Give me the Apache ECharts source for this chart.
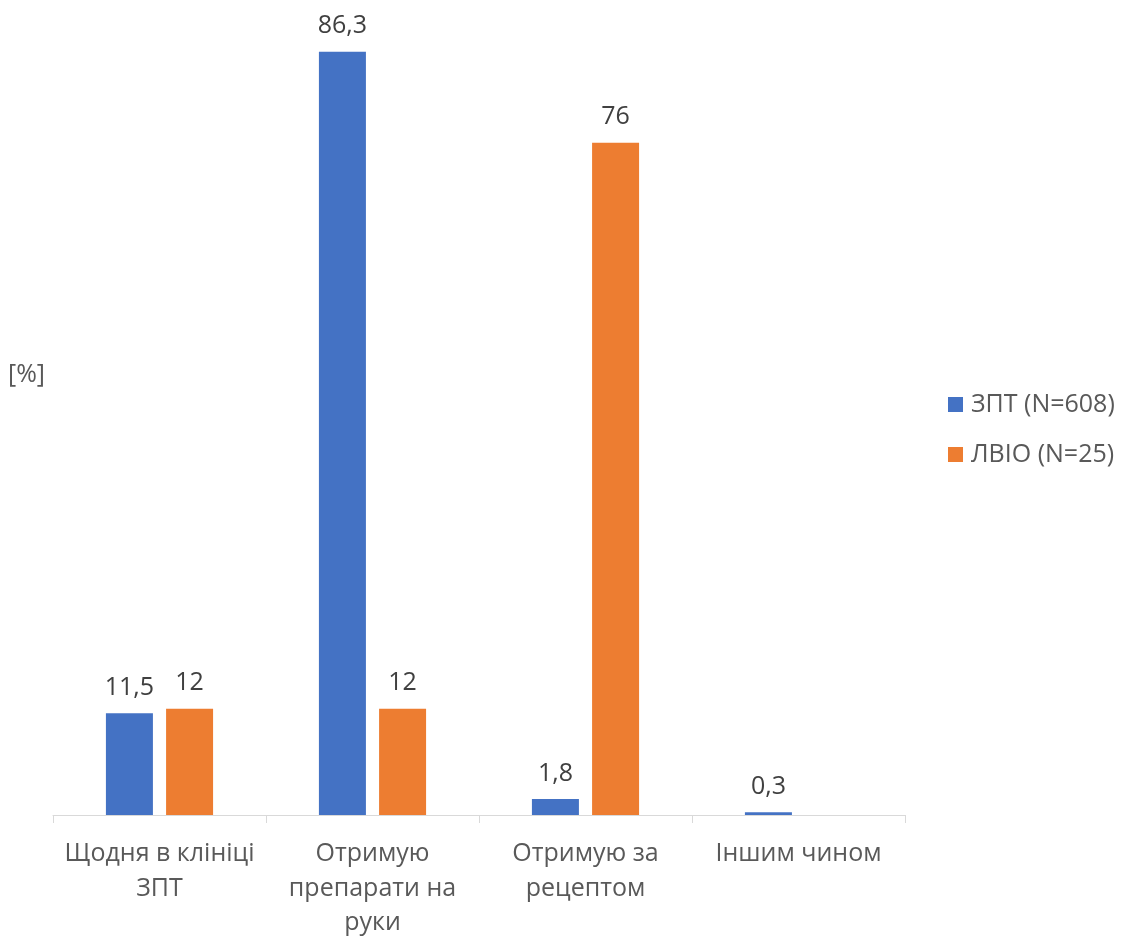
<!DOCTYPE html>
<html><head><meta charset="utf-8">
<script src="https://cdn.jsdelivr.net/npm/echarts@6/dist/echarts.min.js"></script>
<style>html,body{margin:0;padding:0;background:#fff}#c{width:1124px;height:937px}</style>
</head><body><div id="c"></div>
<script>
const categories = ["Щодня в клініці\nЗПТ", "Отримую\nпрепарати на\nруки", "Отримую за\nрецептом", "Іншим чином"];
const seriesNames = ["ЗПТ (N=608)", "ЛВІО (N=25)"];
const zptValues = [11.5, 86.3, 1.8, 0.3];
const lvioValues = [12, 12, 76, 0];
const yAxisLabel = "[%]";

const FONT = "'Open Sans', 'Noto Sans', sans-serif";
const fmt = p => (p.value === 0 || p.value == null) ? '' : String(p.value).replace('.', ',');
const chart = echarts.init(document.getElementById('c'));
chart.setOption({
  animation: false,
  textStyle: { fontFamily: FONT },
  grid: { left: 53, right: 219, top: 19, bottom: 122, containLabel: false, outerBoundsMode: 'none' },
  legend: {
    orient: 'vertical', left: 943, top: 387,
    itemWidth: 15, itemHeight: 15, itemGap: 25,
    icon: 'rect',
    textStyle: { fontSize: 25, color: '#595959', fontFamily: FONT, padding: [0,0,0,3] },
    data: seriesNames
  },
  graphic: [{
    type: 'text', left: 8, top: 362,
    style: { text: yAxisLabel, fontSize: 25, fill: '#595959', fontFamily: FONT }
  }],
  xAxis: {
    type: 'category', data: categories,
    axisLine: { lineStyle: { color: '#d9d9d9', width: 1 } },
    axisTick: { show: true, length: 8, lineStyle: { color: '#d9d9d9' } },
    axisLabel: { fontSize: 25, color: '#595959', lineHeight: 34.5, margin: 22, fontFamily: FONT, interval: 0 }
  },
  yAxis: { type: 'value', min: 0, max: 90, show: false, splitLine: { show: false } },
  series: [
    { name: seriesNames[0], type: 'bar', data: zptValues, barWidth: 47, barGap: '28%',
      itemStyle: { color: '#4472c4' },
      label: { show: true, position: 'top', distance: 13, fontSize: 25, color: '#404040', fontFamily: FONT, formatter: fmt } },
    { name: seriesNames[1], type: 'bar', data: lvioValues, barWidth: 47,
      itemStyle: { color: '#ed7d31' },
      label: { show: true, position: 'top', distance: 13, fontSize: 25, color: '#404040', fontFamily: FONT, formatter: fmt } }
  ]
});
</script></body></html>
